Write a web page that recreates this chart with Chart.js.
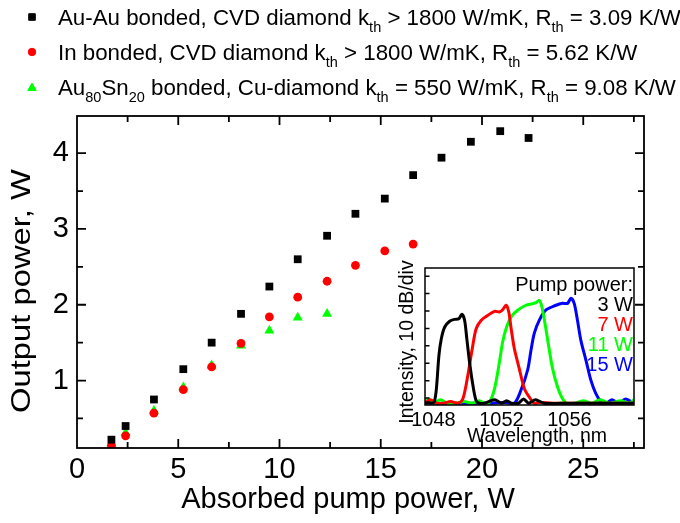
<!DOCTYPE html>
<html>
<head>
<meta charset="utf-8">
<script src="https://cdn.jsdelivr.net/npm/chart.js@4.4.0/dist/chart.umd.min.js"></script>
<style>
  html, body { margin: 0; padding: 0; background: #fff; }
  #wrap { position: relative; width: 680px; height: 523px; }
  #mainChart { position: absolute; left: 0; top: 0; }
  #insetChart { position: absolute; left: 390px; top: 255px; }
</style>
</head>
<body>
<div id="wrap">
  <canvas id="mainChart" width="680" height="523"></canvas>
  <canvas id="insetChart" width="250" height="195"></canvas>
</div>
<script>
const FONT = '"Liberation Sans", Arial, sans-serif';

// main plot: absorbed pump power vs output power (W)
const pumpAbsorbed = [1.7, 2.4, 3.8, 5.25, 6.65, 8.1, 9.5, 10.9, 12.35, 13.75, 15.2, 16.6, 18.0, 19.45, 20.9, 22.3];
const outAuAu = [0.22, 0.40, 0.75, 1.15, 1.50, 1.88, 2.24, 2.60, 2.91, 3.20, 3.40, 3.71, 3.94, 4.15, 4.29, 4.20];
const outIn = [0.14, 0.27, 0.57, 0.88, 1.18, 1.49, 1.84, 2.10, 2.31, 2.52, 2.71, 2.80];
const outAuSn = [0.17, 0.31, 0.60, 0.91, 1.20, 1.46, 1.66, 1.83, 1.88];

const xTickLabels = [0, 5, 10, 15, 20, 25];
const xMinorTicks = [2.5, 7.5, 12.5, 17.5, 22.5, 27.5];
const yTickLabels = [1, 2, 3, 4];
const yMinorTicks = [0.5, 1.5, 2.5, 3.5];

// legend rows: even items normal text, odd items subscript
const legendRows = [
  ['Au-Au bonded, CVD diamond k', 'th', ' > 1800 W/mK, R', 'th', ' = 3.09 K/W'],
  ['In bonded, CVD diamond k', 'th', ' > 1800 W/mK, R', 'th', ' = 5.62 K/W'],
  ['Au', '80', 'Sn', '20', ' bonded, Cu-diamond k', 'th', ' = 550 W/mK, R', 'th', ' = 9.08 K/W']
];

// inset: lasing spectra, wavelength (nm) vs intensity (divisions of 10 dB)
const wl3W = [1047.5, 1047.7, 1047.9, 1048.05, 1048.17, 1048.32, 1048.46, 1048.66, 1048.95, 1049.24, 1049.49, 1049.67, 1049.83, 1049.96, 1050.12, 1050.32, 1050.51, 1050.7, 1051.0, 1051.6, 1052.0, 1052.3, 1052.6, 1053.0, 1053.3, 1053.6, 1054.0, 1054.5, 1055.5, 1056.5, 1057.5, 1058.5, 1059.8];
const int3W = [-0.3, -0.25, -0.3, -0.2, 0.53, 2.45, 3.41, 4.08, 4.41, 4.52, 4.55, 4.81, 4.47, 3.41, 2.07, 0.73, -0.15, -0.3, -0.3, -0.1, -0.3, -0.15, -0.3, -0.3, -0.05, -0.3, -0.1, -0.3, -0.3, -0.3, -0.3, -0.3, -0.3];
const wl7W = [1047.5, 1047.8, 1048.2, 1048.6, 1049.0, 1049.44, 1049.73, 1050.02, 1050.28, 1050.51, 1050.81, 1051.2, 1051.59, 1051.88, 1052.07, 1052.27, 1052.43, 1052.57, 1052.76, 1053.05, 1053.35, 1053.64, 1053.93, 1054.3, 1055.0, 1056.0, 1057.0, 1058.0, 1059.8];
const int7W = [-0.3, -0.1, -0.3, -0.3, -0.2, -0.3, -0.04, 1.30, 2.83, 3.98, 4.47, 4.75, 4.98, 4.94, 5.07, 5.33, 4.94, 3.98, 2.83, 1.68, 0.53, 0.05, -0.3, -0.25, -0.3, -0.3, -0.3, -0.3, -0.3];
const wl11W = [1047.5, 1047.7, 1048.0, 1048.4, 1048.8, 1049.3, 1049.8, 1050.3, 1050.7, 1051.0, 1051.29, 1051.59, 1051.88, 1052.07, 1052.27, 1052.57, 1052.95, 1053.44, 1053.83, 1054.03, 1054.23, 1054.38, 1054.58, 1054.77, 1055.01, 1055.30, 1055.59, 1055.89, 1056.3, 1056.8, 1057.3, 1057.8, 1058.4, 1059.0, 1059.5, 1059.8];
const int11W = [-0.3, -0.05, -0.3, -0.1, -0.3, -0.3, -0.2, -0.3, -0.15, -0.3, -0.23, 0.53, 2.07, 3.22, 3.98, 4.66, 5.04, 5.33, 5.42, 5.48, 5.61, 5.23, 4.18, 3.03, 1.68, 0.63, -0.04, -0.33, -0.3, -0.15, -0.3, -0.1, -0.3, -0.15, -0.3, -0.1];
const wl15W = [1047.5, 1048.5, 1049.5, 1050.5, 1051.5, 1052.2, 1052.76, 1053.15, 1053.54, 1053.74, 1053.93, 1054.23, 1054.62, 1055.21, 1055.59, 1055.89, 1056.09, 1056.28, 1056.47, 1056.67, 1056.97, 1057.26, 1057.55, 1057.85, 1058.1, 1058.5, 1058.9, 1059.3, 1059.8];
const int15W = [-0.3, -0.3, -0.3, -0.3, -0.3, -0.25, -0.3, 0.46, 1.61, 2.76, 3.72, 4.48, 5.06, 5.33, 5.44, 5.44, 5.73, 5.44, 4.48, 3.33, 2.18, 1.03, 0.27, -0.21, -0.35, -0.1, -0.3, -0.05, -0.3];

const insetTickLabels = [1048, 1052, 1056];
const insetDivTicks = [0, 1, 2, 3, 4, 5, 6, 7];
const pumpLabels = ['Pump power:', '3 W', '7 W', '11 W', '15 W'];
const pumpColors = ['#000000', '#000000', '#ff0000', '#00ff00', '#0000ff'];

const pts = (xs, ys) => ys.map((v, i) => ({ x: xs[i], y: v }));

// inward tick marks on all four sides, frame, axis titles
const frameTicks = {
  id: 'frameTicks',
  afterDatasetsDraw(chart) {
    const { ctx, chartArea: a, scales: { x, y } } = chart;
    ctx.save();
    ctx.strokeStyle = '#000';
    ctx.lineWidth = 1.8;
    ctx.strokeRect(a.left, a.top, a.right - a.left, a.bottom - a.top);
    ctx.beginPath();
    const mark = (vals, len) => {
      vals.forEach(v => {
        const px = x.getPixelForValue(v);
        if (px <= a.left + 1 || px >= a.right - 1) return;
        ctx.moveTo(px, a.bottom); ctx.lineTo(px, a.bottom - len);
        ctx.moveTo(px, a.top); ctx.lineTo(px, a.top + len);
      });
    };
    const markY = (vals, len) => {
      vals.forEach(v => {
        const py = y.getPixelForValue(v);
        ctx.moveTo(a.left, py); ctx.lineTo(a.left + len, py);
        ctx.moveTo(a.right, py); ctx.lineTo(a.right - len, py);
      });
    };
    mark(xTickLabels, 9); mark(xMinorTicks, 6);
    markY(yTickLabels, 9); markY(yMinorTicks, 6);
    ctx.stroke();
    ctx.fillStyle = '#000';
    ctx.font = '29px ' + FONT;
    ctx.textAlign = 'center';
    ctx.textBaseline = 'middle';
    ctx.fillText('Absorbed pump power, W', 348, 500);
    // y axis title, a bit elongated like the original figure
    ctx.font = '28px ' + FONT;
    ctx.translate(22, 291);
    ctx.rotate(-Math.PI / 2);
    ctx.scale(1.17, 1);
    ctx.fillText('Output power, W', 0, 0);
    ctx.restore();
  }
};

const topLegend = {
  id: 'topLegend',
  afterDraw(chart) {
    const ctx = chart.ctx;
    ctx.save();
    chart.data.datasets.forEach((ds, i) => {
      const cy = 17 + i * 35;
      ctx.fillStyle = ds.backgroundColor;
      ctx.strokeStyle = ds.borderColor;
      Chart.helpers.drawPoint(ctx, { pointStyle: ds.pointStyle, radius: ds.pointRadius * 0.85, rotation: 0, borderWidth: 1 }, 32, cy + (ds.pointStyle === 'triangle' ? 1 : 0));
      let xPos = 58;
      ctx.fillStyle = '#000';
      ctx.textBaseline = 'alphabetic';
      legendRows[i].forEach((seg, k) => {
        const sub = k % 2 === 1;
        ctx.font = (sub ? '14.5px ' : '22.3px ') + FONT;
        ctx.fillText(seg, xPos, cy + 7.5 + (sub ? 7 : 0));
        xPos += ctx.measureText(seg).width;
      });
    });
    ctx.restore();
  }
};

new Chart(document.getElementById('mainChart'), {
  type: 'scatter',
  data: {
    datasets: [
      { label: 'Au-Au', data: pts(pumpAbsorbed, outAuAu), pointStyle: 'rect', pointRadius: 5.5, backgroundColor: '#000000', borderColor: '#000000', borderWidth: 0 },
      { label: 'In', data: pts(pumpAbsorbed, outIn), pointStyle: 'circle', pointRadius: 4.4, backgroundColor: '#ff0000', borderColor: '#ff0000', borderWidth: 0 },
      { label: 'AuSn', data: pts(pumpAbsorbed, outAuSn), pointStyle: 'triangle', pointRadius: 5.8, backgroundColor: '#00ff00', borderColor: '#00ff00', borderWidth: 0 }
    ]
  },
  options: {
    responsive: false,
    devicePixelRatio: 1,
    animation: false,
    layout: { padding: { left: 0, top: 116, right: 36, bottom: 0 } },
    plugins: { legend: { display: false }, tooltip: { enabled: false } },
    scales: {
      x: {
        type: 'linear', min: 0, max: 28,
        afterBuildTicks: s => { s.ticks = xTickLabels.map(v => ({ value: v })); },
        afterFit: s => { s.height = 75; },
        grid: { display: false, drawTicks: false },
        border: { display: false },
        ticks: { color: '#000', font: { family: FONT, size: 29 }, padding: 5, maxRotation: 0, autoSkip: false }
      },
      y: {
        type: 'linear', min: 0.11, max: 4.49,
        afterBuildTicks: s => { s.ticks = yTickLabels.map(v => ({ value: v })); },
        afterFit: s => { s.width = 77; },
        grid: { display: false, drawTicks: false },
        border: { display: false },
        ticks: { color: '#000', font: { family: FONT, size: 29 }, padding: 8 }
      }
    }
  },
  plugins: [frameTicks, topLegend]
});

const insetDecor = {
  id: 'insetDecor',
  beforeDatasetsDraw(chart) {
    const { ctx, chartArea: a } = chart;
    ctx.save();
    ctx.fillStyle = '#fff';
    ctx.fillRect(a.left, a.top, a.right - a.left, a.bottom - a.top);
    ctx.restore();
  },
  afterDatasetsDraw(chart) {
    const { ctx, chartArea: a, scales: { y } } = chart;
    ctx.save();
    ctx.strokeStyle = '#000';
    ctx.lineWidth = 1.5;
    ctx.strokeRect(a.left, a.top, a.right - a.left, a.bottom - a.top);
    ctx.beginPath();
    insetDivTicks.forEach(v => {
      const py = y.getPixelForValue(v);
      ctx.moveTo(a.left, py); ctx.lineTo(a.left + 4.5, py);
    });
    ctx.stroke();
    // pump power key
    ctx.font = '20px ' + FONT;
    ctx.textAlign = 'right';
    ctx.textBaseline = 'middle';
    pumpLabels.forEach((t, i) => {
      ctx.fillStyle = pumpColors[i];
      ctx.fillText(t, a.right - 1, 30 + i * 20.2);
    });
    // axis titles
    ctx.fillStyle = '#000';
    ctx.font = '19.5px ' + FONT;
    ctx.textAlign = 'center';
    ctx.fillText('Wavelength, nm', 147, 182);
    ctx.translate(18, 87);
    ctx.rotate(-Math.PI / 2);
    ctx.fillText('Intensity, 10 dB/div', 0, 0);
    ctx.restore();
  }
};

const spec = (label, xs, ys, color) => ({
  label, data: pts(xs, ys), borderColor: color, backgroundColor: color,
  borderWidth: 3, pointRadius: 0, tension: 0.3, showLine: true
});

new Chart(document.getElementById('insetChart'), {
  type: 'line',
  data: {
    datasets: [
      spec('3 W', wl3W, int3W, '#000000'),
      spec('7 W', wl7W, int7W, '#ff0000'),
      spec('11 W', wl11W, int11W, '#00ff00'),
      spec('15 W', wl15W, int15W, '#0000ff')
    ]
  },
  options: {
    responsive: false,
    devicePixelRatio: 1,
    animation: false,
    layout: { padding: { left: 0, top: 13, right: 6, bottom: 0 } },
    plugins: { legend: { display: false }, tooltip: { enabled: false } },
    scales: {
      x: {
        type: 'linear', min: 1047.5, max: 1059.8,
        afterBuildTicks: s => { s.ticks = insetTickLabels.map(v => ({ value: v })); },
        afterFit: s => { s.height = 45; },
        grid: { display: false, drawTicks: false },
        border: { display: false },
        ticks: { color: '#000', font: { family: FONT, size: 20 }, padding: 3, maxRotation: 0, autoSkip: false, callback: v => String(v) }
      },
      y: {
        type: 'linear', min: -0.4, max: 7.47,
        afterBuildTicks: s => { s.ticks = insetDivTicks.map(v => ({ value: v })); },
        afterFit: s => { s.width = 35; },
        grid: { display: false, drawTicks: false },
        border: { display: false },
        ticks: { display: false }
      }
    }
  },
  plugins: [insetDecor]
});
</script>
</body>
</html>
